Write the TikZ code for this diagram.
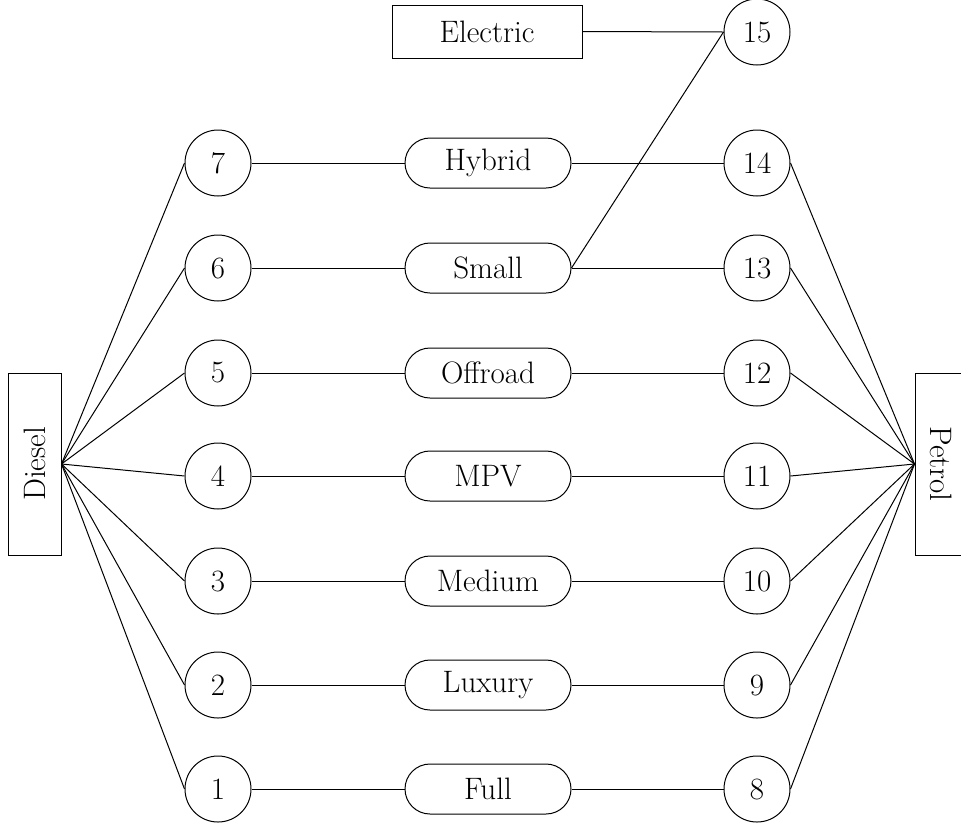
\documentclass[tikz,border=0pt]{standalone}
\usepackage{fontspec}
\setmainfont{Latin Modern Roman}
\begin{document}
\begin{tikzpicture}[x=1pt,y=-1pt,
  every node/.style={font=\fontsize{31}{36}\selectfont, line width=1pt},
  num/.style={draw, circle, minimum size=66pt, inner sep=0pt},
  cat/.style={draw, rounded corners=25pt, minimum width=166pt, minimum height=50pt, inner sep=0pt},
  fuel/.style={draw, rectangle, minimum width=182pt, minimum height=53pt, inner sep=0pt},
  link/.style={line width=1pt}]
\useasboundingbox (0,0) rectangle (961,831);
\node[fuel, rotate=90] (diesel) at (34.5,464) {Diesel};
\node[fuel, rotate=-90] (petrol) at (941.5,464) {Petrol};
\node[draw, rectangle, minimum width=190pt, minimum height=53pt, inner sep=0pt] (electric) at (487,31.5) {Electric};
\node[num] (c15) at (757,32) {15};
\foreach \i/\y/\lab/\r in {7/163/Hybrid/14, 6/268/Small/13, 5/373/Offroad/12, 4/476/MPV/11, 3/581/Medium/10, 2/685/Luxury/9, 1/789/Full/8}{
  \node[num] (c\i) at (218,\y) {\i};
  \node[cat] (m\i) at (488,\y) {\lab};
  \node[num] (c\r) at (757,\y) {\r};
  \draw[link] (c\i.east) -- (m\i.west);
  \draw[link] (m\i.east) -- (c\r.west);
  \draw[link] (diesel.south) -- (c\i.west);
  \draw[link] (petrol.south) -- (c\r.east);
}
\draw[link] (electric.east) -- (c15.west);
\draw[link] (m6.east) -- (c15.west);
\end{tikzpicture}
\end{document}
